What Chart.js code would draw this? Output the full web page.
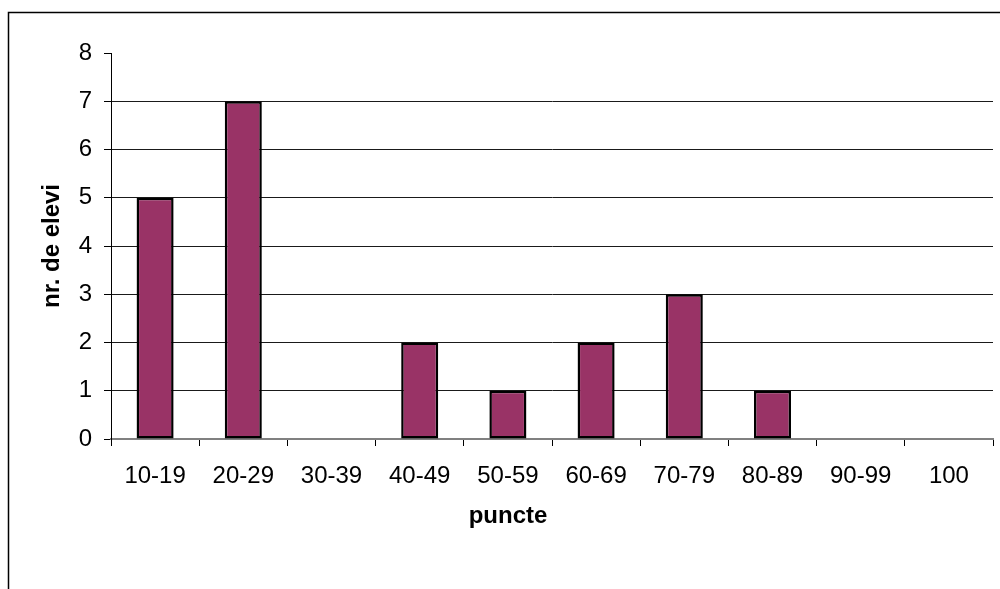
<!DOCTYPE html>
<html>
<head>
<meta charset="utf-8">
<script src="https://cdn.jsdelivr.net/npm/chart.js@4/dist/chart.umd.min.js"></script>
<style>
html,body{margin:0;padding:0;background:#fff;}
#wrap{width:1000px;height:589px;position:relative;}
</style>
</head>
<body>
<div id="wrap"><canvas id="c" width="1000" height="589"></canvas></div>
<script>
const categories = ["10-19","20-29","30-39","40-49","50-59","60-69","70-79","80-89","90-99","100"];
const values = [5, 7, 0, 2, 1, 2, 3, 1, 0, 0];
const yTicks = [0,1,2,3,4,5,6,7,8];
const xTitle = "puncte";
const yTitle = "nr. de elevi";

const FONT = "'Liberation Sans', Arial, sans-serif";

const framePlugin = {
  id: 'frame',
  beforeDraw(chart) {
    const ctx = chart.ctx;
    ctx.save();
    ctx.fillStyle = '#fff';
    ctx.fillRect(0,0,chart.width,chart.height);
    ctx.strokeStyle = '#000';
    ctx.lineWidth = 1.5;
    ctx.beginPath();
    ctx.moveTo(8.5, chart.height + 2);
    ctx.lineTo(8.5, 12.5);
    ctx.lineTo(chart.width + 2, 12.5);
    ctx.stroke();
    ctx.restore();
  },
  afterDraw(chart) {
    // x-axis title, centred on the whole chart frame as in the original
    const ctx = chart.ctx;
    ctx.save();
    ctx.fillStyle = '#000';
    ctx.font = "bold 24px " + FONT;
    ctx.textAlign = 'center';
    ctx.textBaseline = 'alphabetic';
    ctx.fillText(xTitle, (8 + chart.width) / 2 + 4, chart.scales.x.bottom - 66);
    ctx.restore();
  }
};

new Chart(document.getElementById('c'), {
  type: 'bar',
  data: {
    labels: categories,
    datasets: [{
      data: values,
      backgroundColor: '#993366',
      borderColor: '#000000',
      borderWidth: 2.5,
      borderSkipped: false,
      categoryPercentage: 1,
      barPercentage: 0.42
    }]
  },
  options: {
    responsive: false,
    animation: false,
    devicePixelRatio: 1,
    layout: { padding: { left: 0, right: 7, top: 53, bottom: 0 } },
    plugins: { legend: { display: false }, tooltip: { enabled: false } },
    scales: {
      x: {
        offset: true,
        grid: { offset: true, drawOnChartArea: false, tickLength: 7, color: '#000', lineWidth: 1 },
        border: { color: '#808080', width: 2 },
        ticks: { color: '#000', font: { family: FONT, size: 24 }, padding: 16, maxRotation: 0, autoSkip: false },
        title: { display: false },
        afterFit(scale) { scale.height = 150; }
      },
      y: {
        min: 0, max: 8,
        afterBuildTicks(scale) { scale.ticks = yTicks.map(v => ({ value: v })); },
        grid: {
          tickLength: 7,
          color: ctx => (ctx.tick && (ctx.tick.value === 8 || ctx.tick.value === 0)) ? 'rgba(0,0,0,0)' : '#1a1a1a',
          tickColor: '#000',
          lineWidth: 1
        },
        border: { color: '#000', width: 1 },
        ticks: { color: '#000', font: { family: FONT, size: 24 }, padding: 12 },
        title: { display: true, text: yTitle, color: '#000', font: { family: FONT, size: 24, weight: 'bold' }, padding: { top: 38, bottom: 0 } },
        afterFit(scale) { scale.width = 111; }
      }
    }
  },
  plugins: [framePlugin]
});
</script>
</body>
</html>
